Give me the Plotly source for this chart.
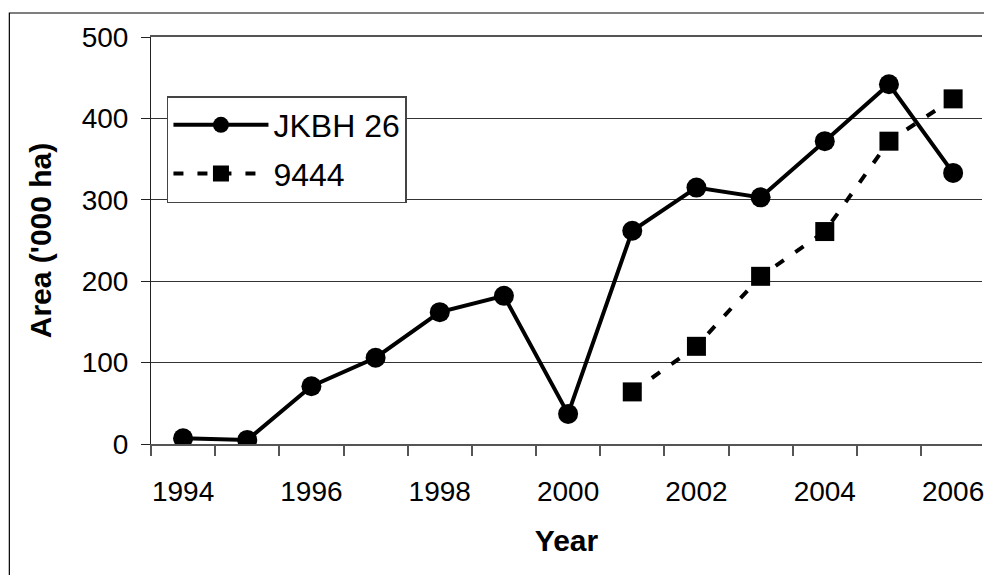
import plotly.graph_objects as go

years = [1994, 1995, 1996, 1997, 1998, 1999, 2000, 2001, 2002, 2003, 2004, 2005, 2006]
jkbh26 = [7, 5, 71, 106, 162, 182, 37, 262, 315, 303, 372, 442, 333]
s9444 = [None, None, None, None, None, None, None, 64, 120, 206, 261, 372, 424]
x_labels = [1994, 1996, 1998, 2000, 2002, 2004, 2006]
y_ticks = [0, 100, 200, 300, 400, 500]

FONT = "Arial, Liberation Sans, sans-serif"

fig = go.Figure()
fig.add_trace(go.Scatter(
    x=years, y=jkbh26, name="JKBH 26", mode="lines+markers",
    line=dict(color="black", width=4),
    marker=dict(symbol="circle", size=20, color="black"),
    legendgroup="a",
))
fig.add_trace(go.Scatter(
    x=years, y=s9444, name="9444", mode="lines+markers",
    line=dict(color="black", width=4, dash="10px,14px"),
    marker=dict(symbol="square", size=19, color="black"),
    legendgroup="b",
))

boundaries = [y - 0.5 for y in years]

fig.update_layout(
    width=984, height=575,
    margin=dict(l=151, r=0, t=37, b=131),
    paper_bgcolor="white", plot_bgcolor="white",
    font=dict(family=FONT, color="black"),
    showlegend=True,
    legend=dict(
        x=0.0192, y=0.855, xanchor="left", yanchor="top",
        bgcolor="white", bordercolor="#444", borderwidth=1.5,
        font=dict(size=32, family=FONT, color="black"),
        traceorder="grouped", tracegroupgap=4,
        itemwidth=95,
    ),
    xaxis=dict(
        range=[1993.5, 2006.45],
        tickmode="array", tickvals=x_labels, ticktext=[str(v) for v in x_labels],
        ticks="", showgrid=False, zeroline=False,
        showline=True, linecolor="#555", linewidth=1.5, mirror=True,
        tickfont=dict(size=28, family=FONT, color="black"),
        ticklabelstandoff=22, ticklabeloverflow="allow",
        minor=dict(tickmode="array", tickvals=boundaries, ticks="outside",
                   ticklen=10, tickwidth=1.5, tickcolor="#555", showgrid=False),
        title=dict(text="<b>Year</b>", font=dict(size=30, family=FONT, color="black"), standoff=24),
    ),
    yaxis=dict(
        range=[0, 500], tickmode="array", tickvals=y_ticks,
        ticks="outside", ticklen=9, tickcolor="#222", tickwidth=1,
        showgrid=True, gridcolor="#333", gridwidth=1,
        zeroline=False, showline=True, linecolor="#222", linewidth=1,
        tickfont=dict(size=28, family=FONT, color="black"),
        ticklabelstandoff=7,
        title=dict(text="<b>Area ('000 ha)</b>", font=dict(size=30, family=FONT, color="black"), standoff=21),
    ),
    shapes=[
        dict(type="rect", xref="paper", yref="paper",
             x0=-0.17047, x1=1.2, y0=-0.6, y1=1.059,
             line=dict(color="black", width=1.2), fillcolor="rgba(0,0,0,0)", layer="above"),
    ],
)

fig.write_html(
    "out.html",
    config={"displayModeBar": False},
    post_script="document.body.style.margin='0';document.body.style.overflow='hidden';",
)
